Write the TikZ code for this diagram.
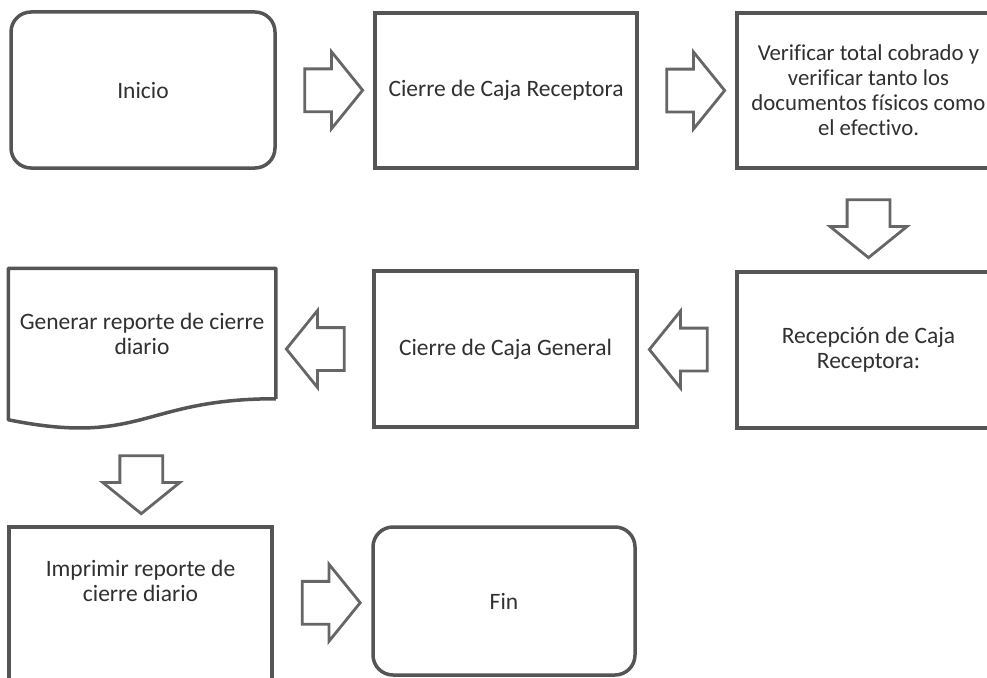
\documentclass[tikz,border=0pt]{standalone}
\usepackage{fontspec}
\setmainfont{Carlito}[Ligatures={NoCommon}]
\usetikzlibrary{shapes.arrows,calc}
\definecolor{boxline}{HTML}{555555}
\definecolor{arrline}{HTML}{666666}
\definecolor{txtcol}{HTML}{303030}
\begin{document}
\begin{tikzpicture}[x=1pt,y=-1pt,
  stepbox/.style={draw=boxline, line width=3.5pt, fill=white, inner sep=0pt,
    text=txtcol, font=\fontsize{23.5}{25}\selectfont, align=center},
  roundbox/.style={stepbox, rounded corners=20pt},
  blockarrow/.style={single arrow, draw=arrline, line width=2.8pt, fill=white,
    inner xsep=0pt, inner ysep=20pt, minimum width=74pt, single arrow head extend=17pt,
    single arrow tip angle=102, minimum height=58pt}]
\fill[white] (0,0) rectangle (987,677);
\clip (0,0) rectangle (987,677);
% row 1
\node[roundbox, minimum width=264pt, minimum height=156pt] (ini) at (143,90) {Inicio};
\node[stepbox, minimum width=262pt, minimum height=155pt] (ccr) at (506,90.5) {Cierre de Caja Receptora};
\node[stepbox, minimum width=263pt, minimum height=155pt, font=\fontsize{22.8}{25}\selectfont] (ver) at (868.5,90.5)
  {Verificar total cobrado y\\ verificar tanto los\\ documentos físicos como\\ el efectivo.};
% row 2
\node[stepbox, minimum width=263pt, minimum height=156pt] (rec) at (868.5,350) {Recepción de Caja\\ Receptora:};
\node[stepbox, minimum width=263pt, minimum height=156pt] (ccg) at (505.5,349) {Cierre de Caja General};
\node[stepbox, draw=none, fill=none, minimum width=264pt, minimum height=127pt] (doc) at (142,333.5)
  {Generar reporte de cierre\\ diario};
\draw[draw=boxline, line width=3.5pt, line join=round]
  (doc.south east) -- (doc.north east) -- (doc.north west) -- ($(doc.south west)+(0,21)$)
  .. controls ($(doc.south)+(0,48)$) and ($(doc.south)+(0,0)$) .. (doc.south east);
% row 3
\node[stepbox, minimum width=263pt, minimum height=155pt,
  label={[text=txtcol, font=\fontsize{23.5}{25}\selectfont, align=center, yshift=24pt]center:Imprimir reporte de\\ cierre diario}]
  (imp) at (140.5,604.5) {};
\node[roundbox, minimum width=262pt, minimum height=148pt] (fin) at (504,601) {Fin};
% block arrows
\node[blockarrow] (a1) at ($(ini.east)!0.5!(ccr.west)$) {};
\node[blockarrow] (a2) at ($(ccr.east)!0.5!(ver.west)$) {};
\node[blockarrow, rotate=-90] (a3) at ($(ver.south)!0.5!(rec.north)$) {};
\node[blockarrow, rotate=180] (a4) at ($(rec.west)!0.5!(ccg.east)$) {};
\node[blockarrow, rotate=180] (a5) at ($(ccg.west)!0.5!(doc.east |- ccg.west)$) {};
\coordinate (docb) at ($(doc.south)+(0,28)$);
\node[blockarrow, rotate=-90] (a6) at ($(docb)!0.5!(imp.north)$) {};
\node[blockarrow] (a7) at ($(imp.east)!0.5!(fin.west)$) {};
\end{tikzpicture}
\end{document}
